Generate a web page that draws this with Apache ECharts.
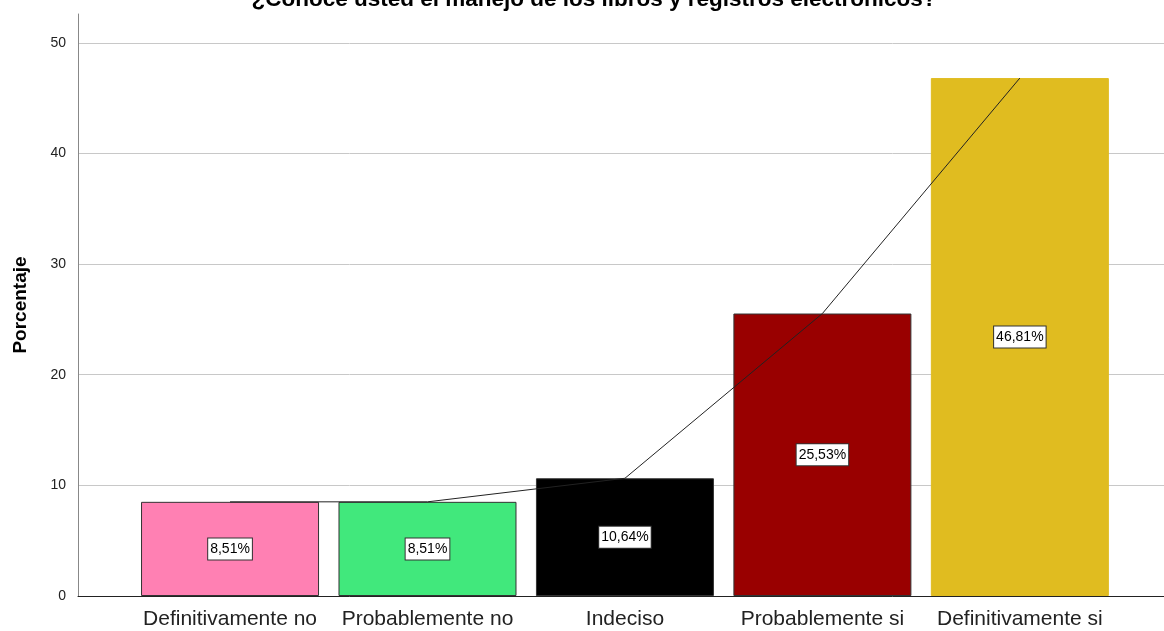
<!DOCTYPE html>
<html><head><meta charset="utf-8">
<script src="https://cdn.jsdelivr.net/npm/echarts@6/dist/echarts.min.js"></script>
<style>html,body{margin:0;padding:0;background:#fff}#c{width:1164px;height:631px}</style>
</head><body><div id="c"></div>
<script>
const titleText = "¿Conoce usted el manejo de los libros y registros electrónicos?";
const categories = ["Definitivamente no", "Probablemente no", "Indeciso", "Probablemente si", "Definitivamente si"];
const values = [8.51, 8.51, 10.64, 25.53, 46.81];
const valueLabels = ["8,51%", "8,51%", "10,64%", "25,53%", "46,81%"];
const barColors = ["#ff80b3", "#41e87c", "#000000", "#990000", "#e0bc20"];
const barBorders = ["#333333", "#333333", "#333333", "#333333", "#e0bc20"];
const yTicks = [0, 10, 20, 30, 40, 50];

const chart = echarts.init(document.getElementById('c'));
const barData = values.map((v, i) => ({
  value: [i, v],
  itemStyle: { color: barColors[i], borderColor: barBorders[i], borderWidth: 1 },
  label: { formatter: valueLabels[i] }
}));
chart.setOption({
  animation: false,
  title: { text: titleText, left: 589, textAlign: 'center', top: -17,
    textStyle: { fontFamily: 'Liberation Sans', fontWeight: 'bold', fontSize: 22.5, color: '#000' } },
  grid: { left: 78, right: 0, top: 14, bottom: 35 },
  xAxis: {
    type: 'value', min: -0.77, max: 4.73,
    axisLine: { show: true, onZero: false, lineStyle: { color: '#222', width: 1 } },
    axisTick: { show: false },
    splitLine: { show: false },
    axisLabel: { customValues: [0, 1, 2, 3, 4], formatter: v => categories[Math.round(v)],
      fontFamily: 'Liberation Sans', fontSize: 21, color: '#222', margin: 13 }
  },
  yAxis: {
    type: 'value', min: 0, max: 52.6,
    axisLabel: { customValues: yTicks, fontFamily: 'Liberation Sans', fontSize: 14, color: '#222', margin: 12 },
    axisTick: { show: false, customValues: yTicks },
    axisLine: { show: true, onZero: false, lineStyle: { color: '#888', width: 1 } },
    splitLine: { show: true, lineStyle: { color: '#c8c8c8', width: 1 } },
    name: 'Porcentaje', nameLocation: 'middle', nameGap: 48, nameRotate: 90,
    nameTextStyle: { fontFamily: 'Liberation Sans', fontWeight: 'bold', fontSize: 19, color: '#000' }
  },
  series: [
    {
      type: 'bar', data: barData, barWidth: 178,
      label: { show: true, position: 'inside', fontFamily: 'Liberation Sans', fontSize: 14, color: '#000',
        backgroundColor: '#fff', borderColor: '#333', borderWidth: 1, padding: [4, 2, 3, 2] },
      z: 2
    },
    {
      type: 'line', data: values.map((v, i) => [i, v]), showSymbol: false, symbol: 'none',
      lineStyle: { color: '#222', width: 1 }, z: 3, silent: true
    }
  ]
});
</script></body></html>
